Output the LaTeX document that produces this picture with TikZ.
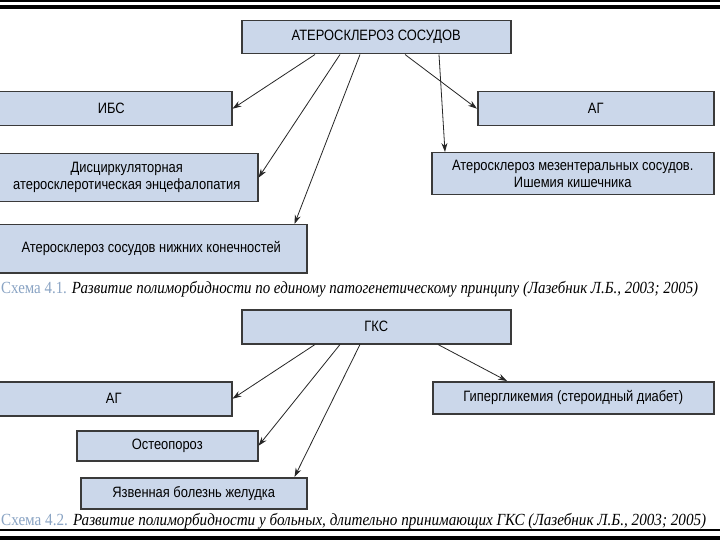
\documentclass[tikz,border=0pt]{standalone}
\usepackage{fontspec}
\setmainfont{Liberation Serif}
\setsansfont{Liberation Sans}[FakeStretch=0.86]
\usepackage{xcolor}
\usepackage{graphicx}
\usetikzlibrary{arrows.meta,calc}
\definecolor{boxfill}{HTML}{CBD7EA}
\definecolor{boxline}{HTML}{3A3A3A}
\definecolor{capblue}{HTML}{8AA4C4}

\begin{document}
\begin{tikzpicture}[
    x=1pt, y=-1pt,
    block/.style={draw=boxline, fill=boxfill, line width=1.5pt, anchor=north west, inner sep=0pt, align=center, font=\sffamily\fontsize{15}{17}\selectfont},
    edge/.style={-{Stealth[length=9pt,width=6pt]}, draw=black!85, line width=0.8pt},
    caption/.style={anchor=west, inner sep=0pt, font=\fontsize{17}{19}\selectfont}
]
\useasboundingbox (0,0) rectangle (720,540);
\fill[white] (0,0) rectangle (720,540);

% page rules
\fill[black] (0,0) rectangle (720,2.3);
\fill[black] (0,4.7) rectangle (720,9);
\draw[black, line width=1.2pt] (0,530) -- (720,530);
\fill[black] (0,536) rectangle (720,540);

% scheme 4.1
\node[block, minimum width=269pt, minimum height=33pt] (ath) at (241,20) {АТЕРОСКЛЕРОЗ СОСУДОВ};
\node[block, minimum width=241pt, minimum height=34pt] (ibs) at (-10,91) {ИБС};
\node[block, minimum width=262pt, minimum height=48pt] (disc) at (-5,153) {Дисциркуляторная\\атеросклеротическая энцефалопатия};
\node[block, minimum width=311pt, minimum height=48pt] (legs) at (-5,224) {Атеросклероз сосудов нижних конечностей};
\node[block, minimum width=236pt, minimum height=34pt] (ag) at (477,91) {АГ};
\node[block, minimum width=282pt, minimum height=42pt] (mes) at (431,152) {Атеросклероз мезентеральных сосудов.\\Ишемия кишечника};

\draw[edge] ([xshift=74pt]ath.south west) -- (ibs.east);
\draw[edge] ([xshift=99pt]ath.south west) -- (disc.east);
\draw[edge] ([xshift=119pt]ath.south west) -- ([xshift=-13pt]legs.north east);
\draw[edge] ([xshift=164pt]ath.south west) -- (ag.west);
\draw[edge] ([xshift=198pt]ath.south west) -- ([xshift=14pt]mes.north west);

\node[caption] (cap1) at (1,289) {\resizebox{697pt}{\height}{{\color{capblue}Схема 4.1.} \textit{Развитие полиморбидности по единому патогенетическому принципу (Лазебник Л.Б., 2003; 2005)}}};

% scheme 4.2
\node[block, minimum width=269pt, minimum height=34pt] (gks) at (241,309) {ГКС};
\node[block, minimum width=236pt, minimum height=34pt] (ag2) at (-5,381) {АГ};
\node[block, minimum width=181pt, minimum height=30pt] (ost) at (76,430) {Остеопороз};
\node[block, minimum width=226pt, minimum height=31pt] (ulc) at (80,477) {Язвенная болезнь желудка};
\node[block, minimum width=281pt, minimum height=32pt] (hyp) at (432,381) {Гипергликемия (стероидный диабет)};

\draw[edge] ([xshift=74pt]gks.south west) -- (ag2.east);
\draw[edge] ([xshift=99pt]gks.south west) -- (ost.east);
\draw[edge] ([xshift=119pt]gks.south west) -- ([xshift=-13pt]ulc.north east);
\draw[edge] ([xshift=197pt]gks.south west) -- ([xshift=75pt]hyp.north west);

\node[caption] (cap2) at (1,521) {\resizebox{705pt}{\height}{{\color{capblue}Схема 4.2.} \textit{Развитие полиморбидности у больных, длительно принимающих ГКС (Лазебник Л.Б., 2003; 2005)}}};
\end{tikzpicture}
\end{document}
